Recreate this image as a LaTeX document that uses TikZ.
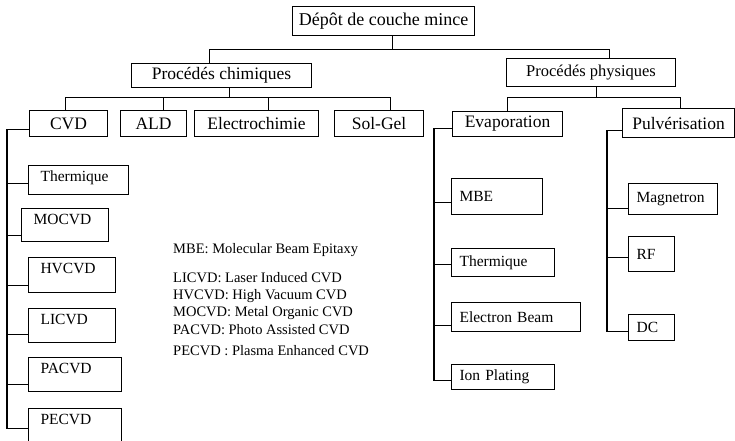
\documentclass[tikz,border=0pt]{standalone}
\usepackage{fontspec}
\setmainfont{Liberation Serif}

\begin{document}
\begin{tikzpicture}[x=1pt,y=-1pt,
  bigbox/.style={draw,anchor=north west,inner sep=0pt,font=\fontsize{17.5}{20}\selectfont},
  subbox/.style 2 args={draw,anchor=north west,align=left,inner xsep=8pt,inner ysep=0pt,
    text width=#1,minimum height=#2,font=\fontsize{15.5}{18}\selectfont},
  cvdbox/.style 2 args={draw,anchor=north west,align=left,inner xsep=12pt,inner ysep=3pt,
    text width=#1,text height=13pt,text depth=#2,font=\fontsize{15.5}{18}\selectfont}]

\def\trunkCVD{7}
\def\trunkEvap{434}
\def\trunkPulv{607}

\useasboundingbox (0,0) rectangle (735,440);

\begin{scope}[line width=1.1pt]
	% root
	\node[bigbox,minimum width=182pt,minimum height=29pt,font=\fontsize{18}{20}\selectfont] (depot) at (292,6) {Dépôt de couche mince};
	% two families
	\node[bigbox,minimum width=180pt,minimum height=24pt] (chim) at (131,63) {Procédés chimiques};
	\node[bigbox,minimum width=169pt,minimum height=28pt,font=\fontsize{16.5}{20}\selectfont] (phys) at (506,58) {Procédés physiques};

	% chemical methods
	\node[bigbox,minimum width=78pt,minimum height=26pt] (cvd) at (29,110) {CVD};
	\node[bigbox,minimum width=66pt,minimum height=26pt] (ald) at (120,110) {ALD};
	\node[bigbox,minimum width=124pt,minimum height=26pt] (electro) at (194,110) {Electrochimie};
	\node[bigbox,minimum width=89pt,minimum height=26pt] (solgel) at (334,110) {Sol-Gel};
	% physical methods
	\node[bigbox,minimum width=110pt,minimum height=25pt] (evap) at (452,111) {Evaporation};
	\node[bigbox,minimum width=112pt,minimum height=29pt] (pulv) at (622,108) {Pulvérisation};

	% root fork
	\draw ([xshift=9pt]depot.south) -- ++(0,13) coordinate (fork);
	\draw ([xshift=-12pt]chim.north) |- (fork) -| ([xshift=18pt]phys.north);

	% chemical fork
	\draw ([xshift=8pt]chim.south) -- ++(0,9) coordinate (chimfork);
	\draw ([xshift=-3pt]cvd.north) |- (chimfork) -| ([xshift=11pt]solgel.north);
	\foreach \n/\s in {ald/10,electro/12} {
		\path ([xshift=\s pt]\n.north) coordinate (top-\n);
		\draw (top-\n) -- (top-\n |- chimfork);
	}

	% physical fork
	\draw ([xshift=5pt]phys.south) -- ++(0,10) coordinate (physfork);
	\draw (evap.north) |- (physfork) -| ([xshift=2pt]pulv.north);

	% trunks
	\coordinate (cvdend) at (\trunkCVD,427);
	\coordinate (evapend) at (\trunkEvap,379);
	\coordinate (pulvend) at (\trunkPulv,330);
	\draw ([yshift=-6pt]cvd.west) -| (cvdend);
	\draw ([yshift=-4pt]evap.west) -| (evapend);
	\draw ([yshift=-7pt]pulv.west) -| (pulvend);

	% CVD variants
	\node[cvdbox={76pt}{10pt}] (cvdtherm) at (28,165) {Thermique};
	\node[cvdbox={63pt}{14pt}] (mocvd) at (21,208) {MOCVD};
	\node[cvdbox={63pt}{16pt}] (hvcvd) at (28,257) {HVCVD};
	\node[cvdbox={63pt}{15pt}] (licvd) at (28,308) {LICVD};
	\node[cvdbox={69pt}{15pt}] (pacvd) at (28,357) {PACVD};
	\node[cvdbox={69pt}{17pt}] (pecvd) at (28,408) {PECVD};
	\foreach \n/\h in {cvdtherm/12,mocvd/7,hvcvd/8,licvd/9,pacvd/8,pecvd/17}
		\draw ([yshift=\h pt]\n.south west) -| (cvdend);

	% evaporation variants
	\node[subbox={75pt}{36pt}] (mbe) at (451,178) {MBE};
	\node[subbox={87pt}{28pt}] (evtherm) at (451,248) {Thermique};
	\node[subbox={113pt}{29pt}] (ebeam) at (451,302) {Electron Beam};
	\node[subbox={87pt}{25pt}] (ionplat) at (451,364) {Ion Plating};
	\foreach \n/\h in {mbe/13,evtherm/13,ebeam/7,ionplat/10}
		\draw ([yshift=\h pt]\n.south west) -| (evapend);

	% sputtering variants
	\node[subbox={73pt}{31pt}] (magnetron) at (628,183) {Magnetron};
	\node[subbox={30pt}{35pt}] (rf) at (628,236) {RF};
	\node[subbox={30pt}{26pt}] (dc) at (628,314) {DC};
	\foreach \n/\h in {magnetron/7,rf/15,dc/10}
		\draw ([yshift=\h pt]\n.south west) -| (pulvend);
\end{scope}

% abbreviations
\node[anchor=north west,align=left,inner sep=0pt,font=\fontsize{14.5}{17.3}\selectfont] (legend) at (173,243)
	{MBE: Molecular Beam Epitaxy\\[11.7pt]
	 LICVD: Laser Induced CVD\\
	 HVCVD: High Vacuum CVD\\
	 MOCVD: Metal Organic CVD\\
	 PACVD: Photo Assisted CVD\\[3.7pt]
	 PECVD : Plasma Enhanced CVD};

\end{tikzpicture}
\end{document}
